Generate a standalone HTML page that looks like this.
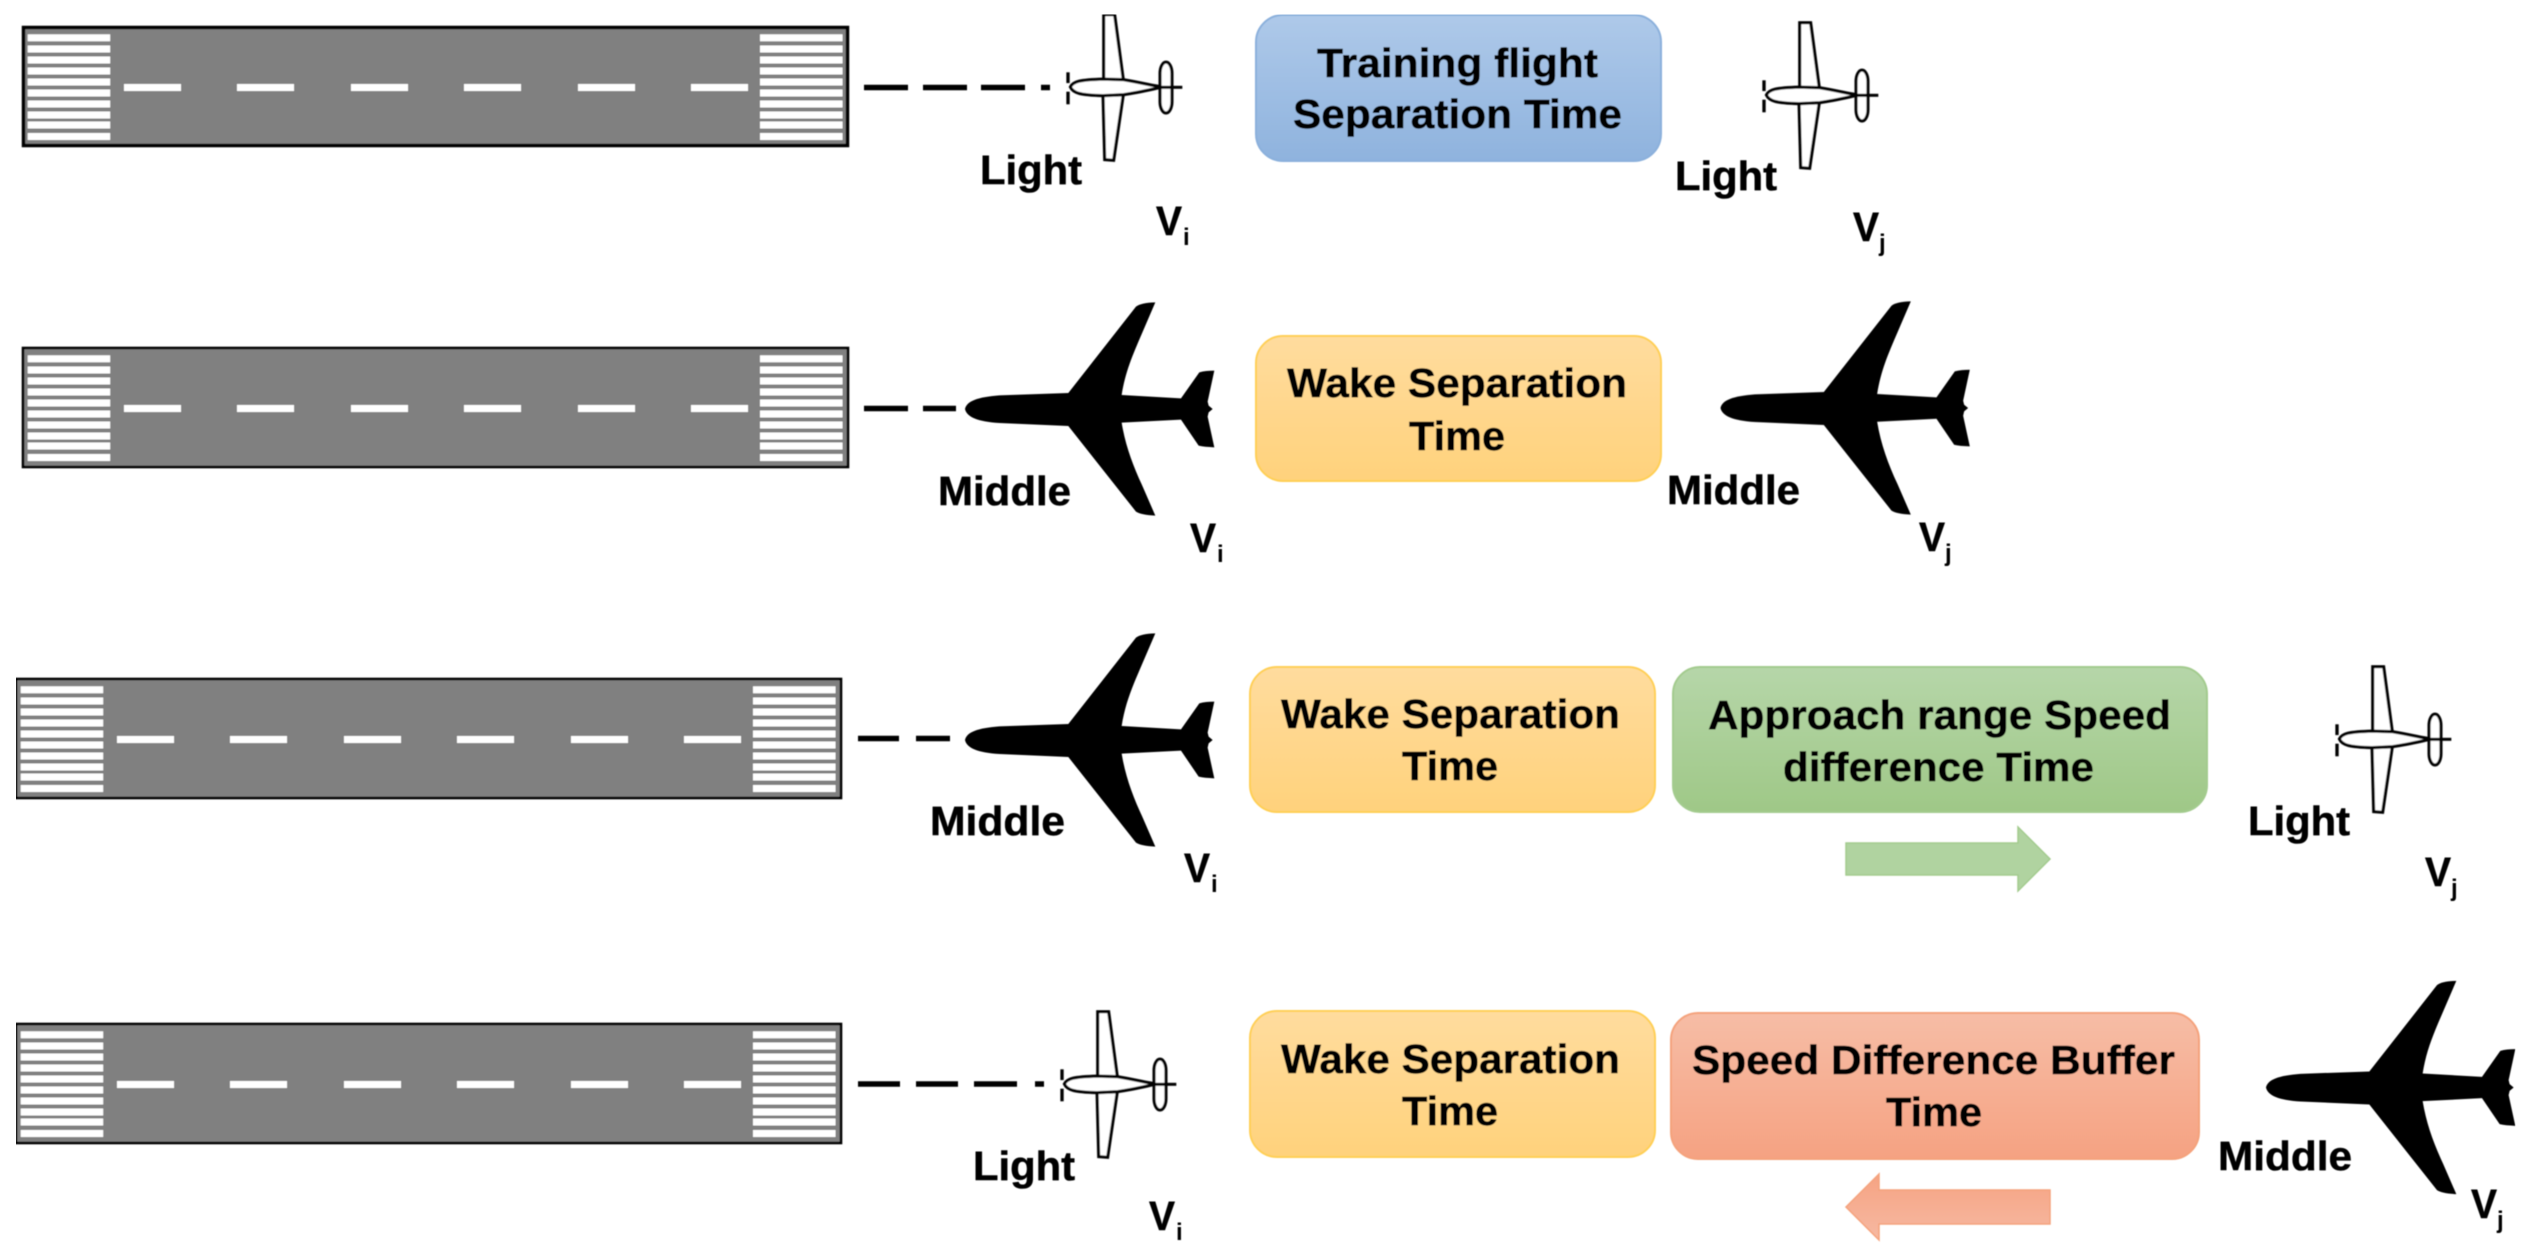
<!DOCTYPE html>
<html lang="en"><head><meta charset="utf-8"><title>Separation time diagram</title>
<style>
html,body{margin:0;padding:0;background:#fff;width:2526px;height:1248px;overflow:hidden}
svg{display:block}
text{font-family:"Liberation Sans",Arial,sans-serif;font-weight:700;font-size:41px;fill:#000;stroke:#000;stroke-width:.5px}
.s{font-size:24px;stroke-width:0}
</style></head><body>
<svg xmlns="http://www.w3.org/2000/svg" width="2526" height="1248" viewBox="0 0 2526 1248">
<defs>
<filter id="soft" x="0" y="0" width="100%" height="100%"><feGaussianBlur stdDeviation="0.55"/></filter>
<linearGradient id="gb" x1="0" y1="0" x2="0" y2="1"><stop offset="0" stop-color="#aec9e9"/><stop offset="1" stop-color="#8fb3de"/></linearGradient>
<linearGradient id="gy" x1="0" y1="0" x2="0" y2="1"><stop offset="0" stop-color="#ffdc9e"/><stop offset="1" stop-color="#ffd27c"/></linearGradient>
<linearGradient id="gg" x1="0" y1="0" x2="0" y2="1"><stop offset="0" stop-color="#b6d6a9"/><stop offset="1" stop-color="#9fc887"/></linearGradient>
<linearGradient id="go" x1="0" y1="0" x2="0" y2="1"><stop offset="0" stop-color="#f7bda6"/><stop offset="1" stop-color="#f5a282"/></linearGradient>
<linearGradient id="ga" x1="0" y1="0" x2="0" y2="1"><stop offset="0" stop-color="#f5a383"/><stop offset="1" stop-color="#f7b9a2"/></linearGradient>
<g id="stripes" fill="#fff">
<rect x="5.7" y="8.3" width="82.5" height="7"/><rect x="5.7" y="19.5" width="82.5" height="7"/><rect x="5.7" y="30.5" width="82.5" height="7"/><rect x="5.7" y="41.5" width="82.5" height="7"/><rect x="5.7" y="52.5" width="82.5" height="7"/><rect x="5.7" y="63.5" width="82.5" height="7"/><rect x="5.7" y="74.5" width="82.5" height="7"/><rect x="5.7" y="85.5" width="82.5" height="7"/><rect x="5.7" y="95.5" width="82.5" height="7"/><rect x="5.7" y="107" width="82.5" height="7"/>
<rect x="738" y="8.3" width="82.5" height="7"/><rect x="738" y="19.5" width="82.5" height="7"/><rect x="738" y="30.5" width="82.5" height="7"/><rect x="738" y="41.5" width="82.5" height="7"/><rect x="738" y="52.5" width="82.5" height="7"/><rect x="738" y="63.5" width="82.5" height="7"/><rect x="738" y="74.5" width="82.5" height="7"/><rect x="738" y="85.5" width="82.5" height="7"/><rect x="738" y="95.5" width="82.5" height="7"/><rect x="738" y="107" width="82.5" height="7"/>
<rect x="102" y="58" width="57" height="7"/><rect x="215" y="58" width="57" height="7"/><rect x="329" y="58" width="57" height="7"/><rect x="442" y="58" width="57" height="7"/><rect x="556" y="58" width="57" height="7"/><rect x="669" y="58" width="57" height="7"/>
</g>
<g id="rw"><rect x="1" y="1" width="825" height="119" fill="#808080" stroke="#000" stroke-width="2.6"/><use href="#stripes"/></g>
<g id="rw1"><rect x="1.5" y="1.5" width="824" height="118" fill="#808080" stroke="#000" stroke-width="3.5"/><use href="#stripes"/></g>
<path id="big" transform="scale(.3333) translate(-137,-322)" fill="#000" d="M137,322 C142,298 175,286 240,281 L447,274 L650,15 Q665,3 708,2 L668,95 C640,160 618,210 607,280 L785,290 L840,212 Q860,207 885,207 L865,300 L868,312 L880,322 L868,332 L865,345 L885,437 Q855,436 838,432 L785,354 L607,363 C618,430 640,490 668,550 L708,642 Q665,640 650,630 L447,373 L240,364 C175,360 142,346 137,322Z"/>
<g id="small" transform="scale(.3333) translate(-115,-262)" fill="#fff" stroke="#000" stroke-width="9">
<path d="M222,240 L222,45 L255,45 L281,240Z"/>
<path d="M220,287 L225,480 L252,482 L281,285Z"/>
<path d="M122,262 C130,245 150,240 222,238 L282,240 C330,248 370,258 400,262 C370,268 330,278 282,285 L220,288 C150,286 130,280 122,262Z"/>
<rect x="391" y="187" width="36" height="153" rx="18" ry="34"/>
<path d="M392,263 L458,263" fill="none"/>
<path d="M115,218 L115,250 M115,276 L115,314" fill="none" stroke-width="10"/>
</g>
</defs>
<g filter="url(#soft)">
<use href="#rw1" x="22" y="26"/>
<use href="#rw" x="22" y="347"/>
<use href="#rw" x="15" y="678"/>
<use href="#rw" x="15" y="1023"/>

<g stroke="#000" stroke-width="5.5" fill="none">
<path d="M864,87.5H908M923,87.5H967M981,87.5H1025M1041,87.5H1050"/>
<path d="M864,408.5H908M923,408.5H956"/>
<path d="M858,738.5H899M916,738.5H950"/>
<path d="M858,1084H900M916,1084H958M974,1084H1017M1035,1084H1044"/>
</g>

<use href="#small" x="1068" y="87"/>
<use href="#small" x="1764" y="95"/>
<use href="#small" x="2337" y="739"/>
<use href="#small" x="1062" y="1084"/>
<use href="#big" x="965" y="409"/>
<use href="#big" x="1720.5" y="408"/>
<use href="#big" x="965" y="740"/>
<use href="#big" x="2266" y="1087.5"/>

<rect x="1256" y="15" width="405" height="146" rx="27" fill="url(#gb)" stroke="#8bb0dc" stroke-width="2"/>
<rect x="1256" y="336" width="405" height="145" rx="27" fill="url(#gy)" stroke="#ffcf55" stroke-width="2"/>
<rect x="1250" y="667" width="405" height="145" rx="27" fill="url(#gy)" stroke="#ffcf55" stroke-width="2"/>
<rect x="1673" y="667" width="534" height="145" rx="27" fill="url(#gg)" stroke="#a3cb8e" stroke-width="2"/>
<rect x="1250" y="1011" width="405" height="146" rx="27" fill="url(#gy)" stroke="#ffcf55" stroke-width="2"/>
<rect x="1671" y="1013" width="528" height="146" rx="27" fill="url(#go)" stroke="#f4a27c" stroke-width="2"/>

<path d="M1846,843H2018V827L2050,859L2018,891V875H1846Z" fill="#b0d3a0" stroke="#a3cb8e" stroke-width="1.5"/>
<path d="M1846,1207L1879,1174V1190H2050V1224H1879V1240Z" fill="url(#ga)" stroke="#f4a27c" stroke-width="1.5"/>

<text x="1317" y="77" textLength="281" lengthAdjust="spacingAndGlyphs">Training flight</text>
<text x="1293" y="128" textLength="329" lengthAdjust="spacingAndGlyphs">Separation Time</text>
<text x="1287" y="397" textLength="340" lengthAdjust="spacingAndGlyphs">Wake Separation</text>
<text x="1409" y="450" textLength="96" lengthAdjust="spacingAndGlyphs">Time</text>
<text x="1281" y="728" textLength="339" lengthAdjust="spacingAndGlyphs">Wake Separation</text>
<text x="1402" y="780" textLength="96" lengthAdjust="spacingAndGlyphs">Time</text>
<text x="1708" y="729" textLength="463" lengthAdjust="spacingAndGlyphs">Approach range Speed</text>
<text x="1783" y="781" textLength="311" lengthAdjust="spacingAndGlyphs">difference Time</text>
<text x="1281" y="1073" textLength="339" lengthAdjust="spacingAndGlyphs">Wake Separation</text>
<text x="1402" y="1125" textLength="96" lengthAdjust="spacingAndGlyphs">Time</text>
<text x="1692" y="1074" textLength="483" lengthAdjust="spacingAndGlyphs">Speed Difference Buffer</text>
<text x="1886" y="1126" textLength="96" lengthAdjust="spacingAndGlyphs">Time</text>

<text x="980" y="184" textLength="102" lengthAdjust="spacingAndGlyphs">Light</text>
<text x="1675" y="190" textLength="102" lengthAdjust="spacingAndGlyphs">Light</text>
<text x="938" y="505" textLength="133" lengthAdjust="spacingAndGlyphs">Middle</text>
<text x="1667" y="504" textLength="133" lengthAdjust="spacingAndGlyphs">Middle</text>
<text x="930" y="835" textLength="135" lengthAdjust="spacingAndGlyphs">Middle</text>
<text x="2248" y="835" textLength="102" lengthAdjust="spacingAndGlyphs">Light</text>
<text x="973" y="1180" textLength="102" lengthAdjust="spacingAndGlyphs">Light</text>
<text x="2218" y="1170" textLength="134" lengthAdjust="spacingAndGlyphs">Middle</text>

<text x="1156" y="235" textLength="26" lengthAdjust="spacingAndGlyphs">V</text><text class="s" x="1183" y="245">i</text>
<text x="1853" y="241" textLength="26" lengthAdjust="spacingAndGlyphs">V</text><text class="s" x="1879" y="251">j</text>
<text x="1190" y="552" textLength="26" lengthAdjust="spacingAndGlyphs">V</text><text class="s" x="1217" y="562">i</text>
<text x="1919" y="551" textLength="26" lengthAdjust="spacingAndGlyphs">V</text><text class="s" x="1945" y="561">j</text>
<text x="1184" y="882" textLength="26" lengthAdjust="spacingAndGlyphs">V</text><text class="s" x="1211" y="892">i</text>
<text x="2425" y="886" textLength="26" lengthAdjust="spacingAndGlyphs">V</text><text class="s" x="2451" y="896">j</text>
<text x="1149" y="1230" textLength="26" lengthAdjust="spacingAndGlyphs">V</text><text class="s" x="1176" y="1240">i</text>
<text x="2471" y="1218" textLength="26" lengthAdjust="spacingAndGlyphs">V</text><text class="s" x="2497" y="1228">j</text>
</g>
</svg>
</body></html>
